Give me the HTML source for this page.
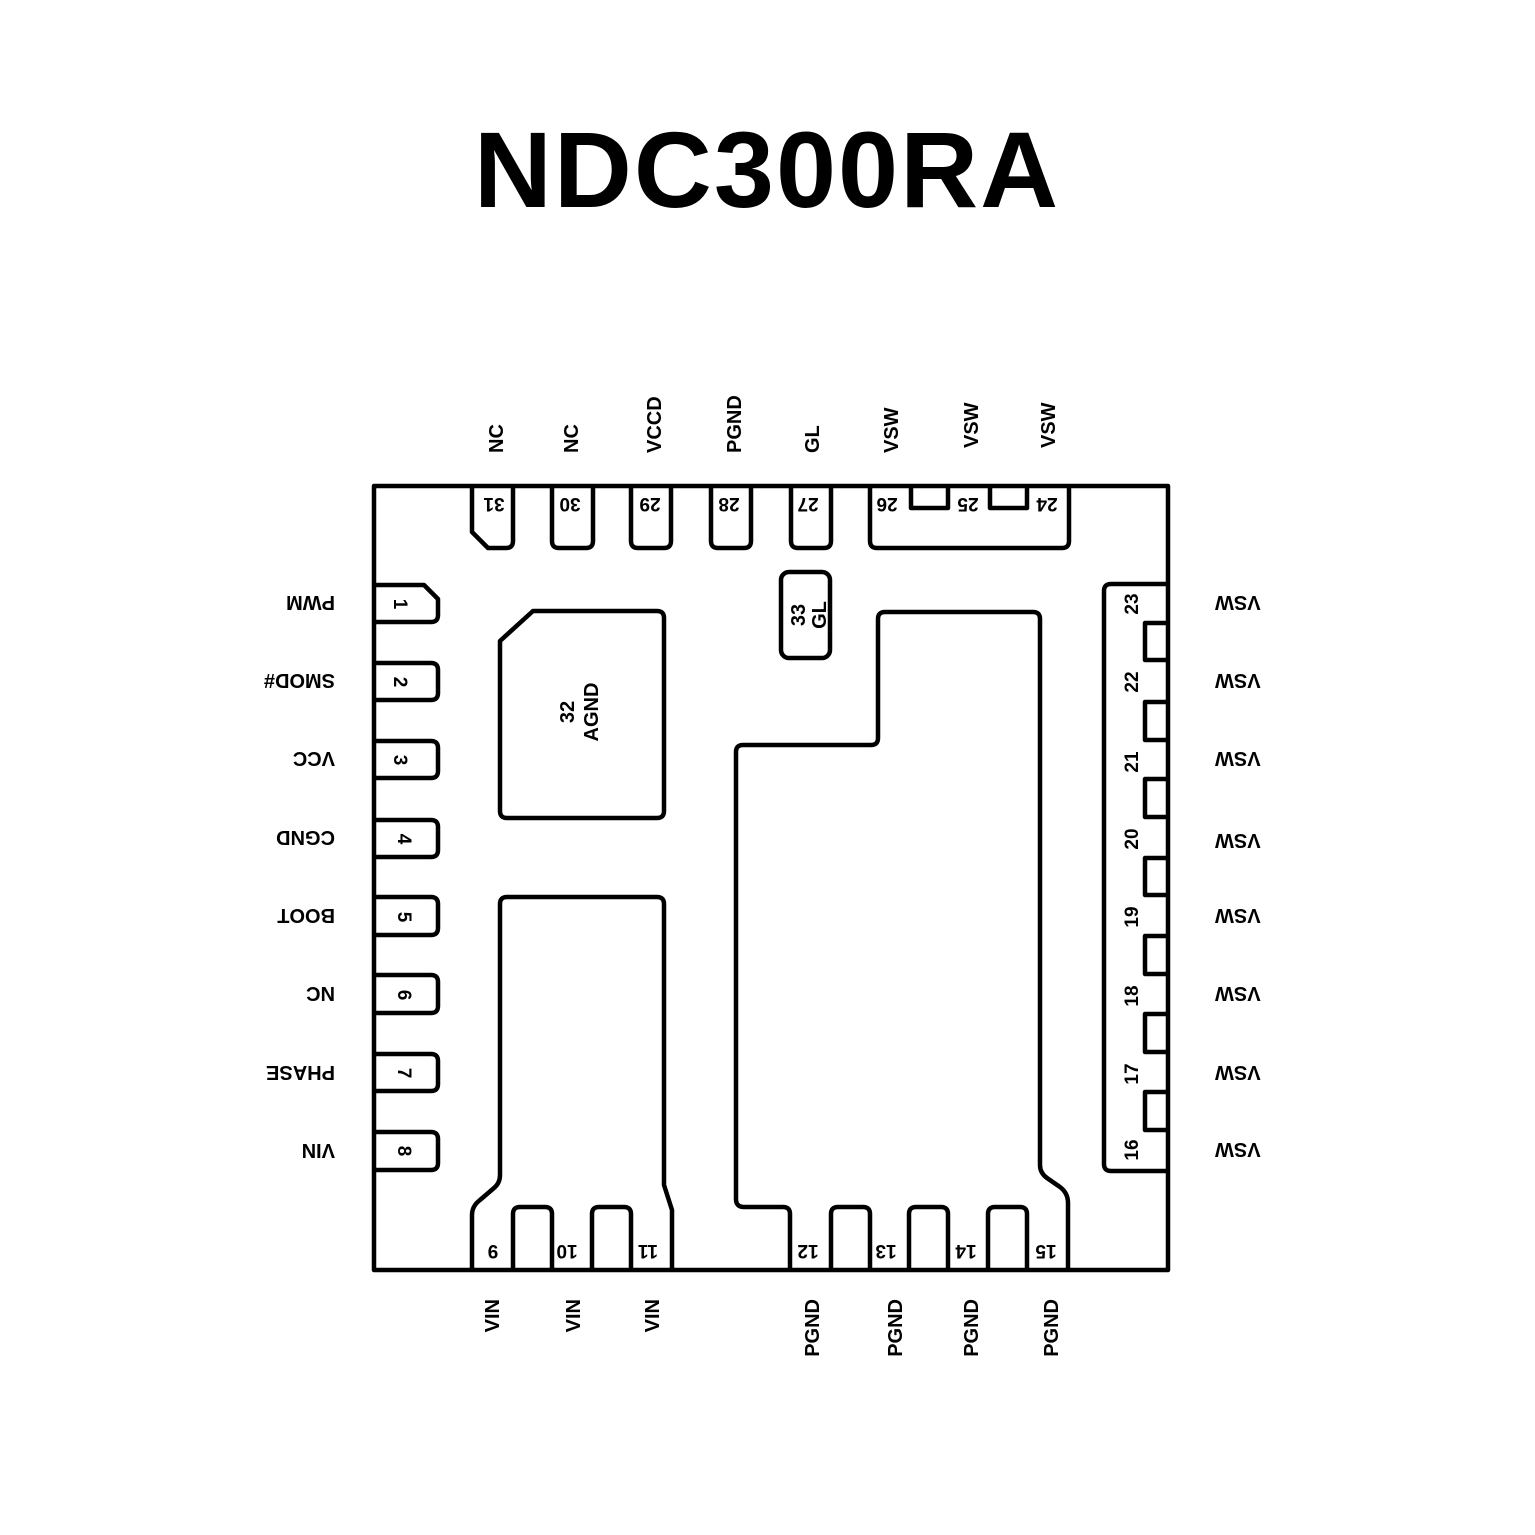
<!DOCTYPE html>
<html><head><meta charset="utf-8"><style>
html,body{margin:0;padding:0;background:#fff}
svg{display:block}
text{font-family:"Liberation Sans",Arial,sans-serif;font-weight:bold;fill:#000}
.l{font-size:20px}
.n{font-size:19px}
</style></head><body>
<svg width="1535" height="1535" viewBox="0 0 1535 1535" xmlns="http://www.w3.org/2000/svg">
<text x="767" y="207" text-anchor="middle" style="font-size:108px;letter-spacing:2px">NDC300RA</text>
<g fill="none" stroke="#000" stroke-width="4.5" stroke-linejoin="round">
<rect x="374" y="486" width="794" height="784"/>
<path d="M472 486 V532 L488 548 H506 Q513 548 513 541 V486"/>
<path d="M552 486 V541 Q552 548 559 548 H586 Q593 548 593 541 V486"/>
<path d="M631 486 V541 Q631 548 638 548 H664 Q671 548 671 541 V486"/>
<path d="M711 486 V541 Q711 548 718 548 H744 Q751 548 751 541 V486"/>
<path d="M791 486 V541 Q791 548 798 548 H824 Q831 548 831 541 V486"/>
<path d="M870 486 V541 Q870 548 877 548 H1062 Q1069 548 1069 541 V486"/>
<path d="M911 486 V508 H948 V486"/>
<path d="M990 486 V508 H1027 V486"/>
<path d="M374 585 H424 L438 599 V615 Q438 622 431 622 H374"/>
<path d="M374 663 H431 Q438 663 438 670 V693 Q438 700 431 700 H374"/>
<path d="M374 741 H431 Q438 741 438 748 V771 Q438 778 431 778 H374"/>
<path d="M374 820 H431 Q438 820 438 827 V850 Q438 857 431 857 H374"/>
<path d="M374 897 H431 Q438 897 438 904 V928 Q438 935 431 935 H374"/>
<path d="M374 975 H431 Q438 975 438 982 V1006 Q438 1013 431 1013 H374"/>
<path d="M374 1054 H431 Q438 1054 438 1061 V1084 Q438 1091 431 1091 H374"/>
<path d="M374 1132 H431 Q438 1132 438 1139 V1163 Q438 1170 431 1170 H374"/>
<path d="M1168 584 H1111 Q1104 584 1104 591 V1164 Q1104 1171 1111 1171 H1168"/>
<path d="M1168 623 H1145 V660 H1168"/>
<path d="M1168 702 H1145 V740 H1168"/>
<path d="M1168 779 H1145 V817 H1168"/>
<path d="M1168 858 H1145 V895 H1168"/>
<path d="M1168 936 H1145 V974 H1168"/>
<path d="M1168 1014 H1145 V1052 H1168"/>
<path d="M1168 1092 H1145 V1130 H1168"/>
<path d="M500 641 L533 611 H657 Q664 611 664 618 V811 Q664 818 657 818 H507 Q500 818 500 811 Z"/>
<rect x="781" y="572" width="49" height="86" rx="8"/>
<path d="M472 1270 V1215 Q472 1206 480 1200 L494 1188 Q500 1183 500 1175 V904 Q500 897 507 897 H657 Q664 897 664 904 V1185 L672 1210 V1270"/>
<path d="M513 1270 V1214 Q513 1207 520 1207 H545 Q552 1207 552 1214 V1270"/>
<path d="M592 1270 V1214 Q592 1207 599 1207 H624 Q631 1207 631 1214 V1270"/>
<path d="M790 1270 V1214 Q790 1207 783 1207 H744 Q736 1207 736 1199 V752 Q736 745 743 745 H871 Q878 745 878 738 V619 Q878 612 885 612 H1033 Q1040 612 1040 619 V1165 Q1040 1173 1047 1178 L1060 1187 Q1068 1193 1068 1203 V1270"/>
<path d="M831 1270 V1214 Q831 1207 838 1207 H863 Q870 1207 870 1214 V1270"/>
<path d="M909 1270 V1214 Q909 1207 916 1207 H941 Q948 1207 948 1214 V1270"/>
<path d="M988 1270 V1214 Q988 1207 995 1207 H1020 Q1027 1207 1027 1214 V1270"/>
</g>
<g class="l" text-anchor="start">
<text transform="translate(503,453) rotate(-90)">NC</text>
<text transform="translate(578,453) rotate(-90)">NC</text>
<text transform="translate(661,453) rotate(-90)">VCCD</text>
<text transform="translate(741,453) rotate(-90)">PGND</text>
<text transform="translate(819,453) rotate(-90)">GL</text>
<text transform="translate(898,453) rotate(-90)">VSW</text>
<text transform="translate(978,448) rotate(-90)">VSW</text>
<text transform="translate(1055,448) rotate(-90)">VSW</text>
</g>
<g class="n" text-anchor="middle">
<text transform="translate(494,498) rotate(180)">31</text>
<text transform="translate(570,498) rotate(180)">30</text>
<text transform="translate(650,498) rotate(180)">29</text>
<text transform="translate(729,498) rotate(180)">28</text>
<text transform="translate(808,498) rotate(180)">27</text>
<text transform="translate(887,498) rotate(180)">26</text>
<text transform="translate(968,498) rotate(180)">25</text>
<text transform="translate(1047,498) rotate(180)">24</text>
</g>
<g class="l" text-anchor="start">
<text transform="translate(335,596) rotate(180)">PWM</text>
<text transform="translate(335,674) rotate(180)">SMOD#</text>
<text transform="translate(335,752) rotate(180)">VCC</text>
<text transform="translate(335,831) rotate(180)">CGND</text>
<text transform="translate(335,909) rotate(180)">BOOT</text>
<text transform="translate(335,987) rotate(180)">NC</text>
<text transform="translate(335,1066) rotate(180)">PHASE</text>
<text transform="translate(335,1144) rotate(180)">VIN</text>
</g>
<g class="n" text-anchor="middle">
<text transform="translate(394,604) rotate(90)">1</text>
<text transform="translate(394,682) rotate(90)">2</text>
<text transform="translate(394,760) rotate(90)">3</text>
<text transform="translate(398,839) rotate(90)">4</text>
<text transform="translate(398,917) rotate(90)">5</text>
<text transform="translate(398,995) rotate(90)">6</text>
<text transform="translate(398,1073) rotate(90)">7</text>
<text transform="translate(398,1151) rotate(90)">8</text>
</g>
<g class="l" text-anchor="end">
<text transform="translate(1215,596) rotate(180)">VSW</text>
<text transform="translate(1215,674) rotate(180)">VSW</text>
<text transform="translate(1215,752) rotate(180)">VSW</text>
<text transform="translate(1215,834) rotate(180)">VSW</text>
<text transform="translate(1215,909) rotate(180)">VSW</text>
<text transform="translate(1215,987) rotate(180)">VSW</text>
<text transform="translate(1215,1066) rotate(180)">VSW</text>
<text transform="translate(1215,1143) rotate(180)">VSW</text>
</g>
<g class="n" text-anchor="middle">
<text transform="translate(1138,604) rotate(-90)">23</text>
<text transform="translate(1138,682) rotate(-90)">22</text>
<text transform="translate(1138,762) rotate(-90)">21</text>
<text transform="translate(1138,839) rotate(-90)">20</text>
<text transform="translate(1138,917) rotate(-90)">19</text>
<text transform="translate(1138,996) rotate(-90)">18</text>
<text transform="translate(1138,1074) rotate(-90)">17</text>
<text transform="translate(1138,1150) rotate(-90)">16</text>
</g>
<g class="l" text-anchor="middle">
<text transform="translate(574,712) rotate(-90)">32</text>
<text transform="translate(598,712) rotate(-90)">AGND</text>
<text transform="translate(805,615) rotate(-90)">33</text>
<text transform="translate(826,615) rotate(-90)">GL</text>
</g>
<g class="n" text-anchor="middle">
<text transform="translate(493,1245) rotate(180)">9</text>
<text transform="translate(567,1245) rotate(180)">10</text>
<text transform="translate(648,1245) rotate(180)">11</text>
<text transform="translate(808,1245) rotate(180)">12</text>
<text transform="translate(886,1245) rotate(180)">13</text>
<text transform="translate(966,1245) rotate(180)">14</text>
<text transform="translate(1046,1245) rotate(180)">15</text>
</g>
<g class="l" text-anchor="end">
<text transform="translate(499,1299) rotate(-90)">VIN</text>
<text transform="translate(580,1299) rotate(-90)">VIN</text>
<text transform="translate(659,1299) rotate(-90)">VIN</text>
<text transform="translate(819,1299) rotate(-90)">PGND</text>
<text transform="translate(902,1299) rotate(-90)">PGND</text>
<text transform="translate(978,1299) rotate(-90)">PGND</text>
<text transform="translate(1058,1299) rotate(-90)">PGND</text>
</g>
</svg>
</body></html>
